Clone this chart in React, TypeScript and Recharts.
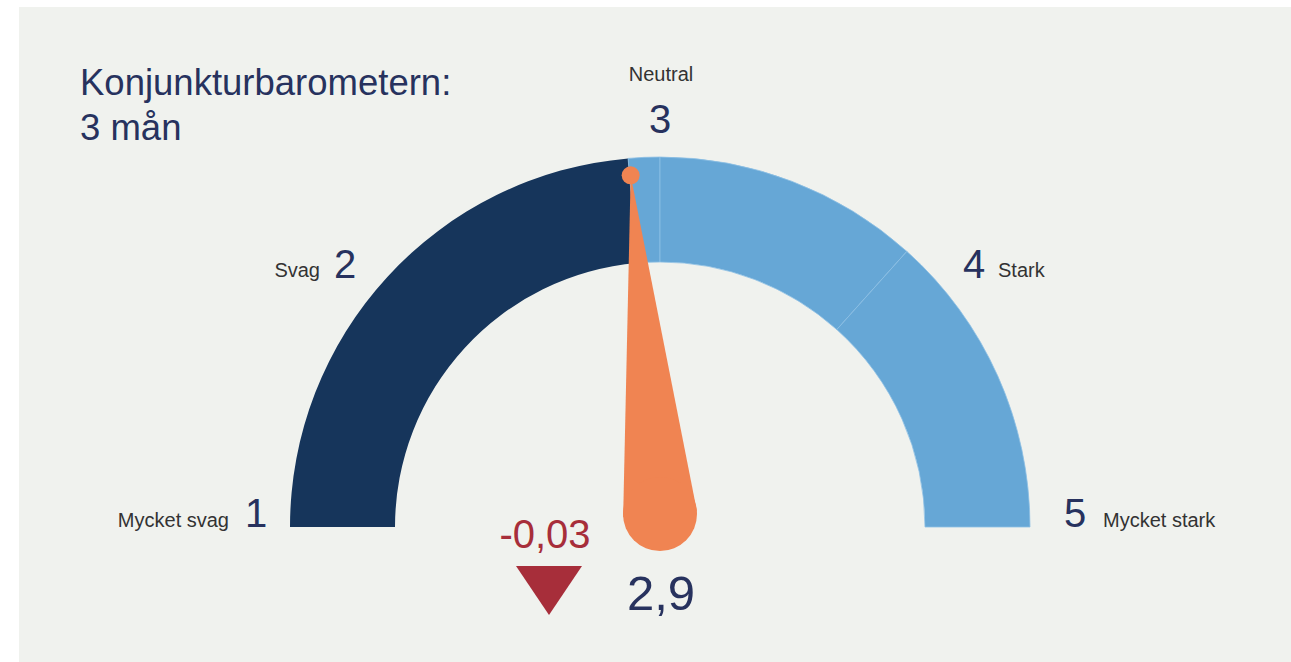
import { PieChart, Pie, Cell, Customized } from "recharts";

// gauge scale
const scaleTicks = [1, 2, 3, 4, 5];
const tickLabels = ["Mycket svag", "Svag", "Neutral", "Stark", "Mycket stark"];
// colour band edges as drawn in the arc
const bandEdges = [1, 3, 3.93, 5];
const currentValue = 2.89;
const changeValue = -0.03;
const titleLines = ["Konjunkturbarometern:", "3 mån"];

const W = 1272;
const H = 655;
const CX = 641;
const CY = 520;
const INNER = 265;
const OUTER = 370;

const NAVY = "#16355b";
const LIGHT = "#66a7d6";
const ORANGE = "#f08452";
const RED = "#a72e3a";
const TEXT_NAVY = "#27325e";
const FONT = "'Liberation Sans', Arial, sans-serif";

const minV = scaleTicks[0];
const maxV = scaleTicks[scaleTicks.length - 1];

// filled part is one piece, the rest is split at the band edges above the value
const cuts = [minV, currentValue, ...bandEdges.filter((t) => t > currentValue)];
const segments = cuts.slice(0, -1).map((from, i) => ({
  name: `${from}-${cuts[i + 1]}`,
  value: cuts[i + 1] - from,
  filled: i === 0,
}));
const needleData = [
  { name: "value", value: currentValue - minV },
  { name: "rest", value: maxV - currentValue },
];

const fmt = (v: number, d: number) => v.toFixed(d).replace(".", ",");
const rad = (deg: number) => (deg * Math.PI) / 180;

// where number / label text sits for each tick (offset from gauge centre)
const tickTextPos = [
  { dx: -404, dy: 0, labelDx: -431, labelDy: 0, anchor: "end" },
  { dx: -315, dy: -249, labelDx: -340, labelDy: -250, anchor: "end" },
  { dx: 0, dy: -394, labelDx: 1, labelDy: -446, anchor: "middle" },
  { dx: 314, dy: -249, labelDx: 338, labelDy: -250, anchor: "start" },
  { dx: 415, dy: 0, labelDx: 443, labelDy: 0, anchor: "start" },
];

// needle drawn as the label of the first slice, so it sits on top of the arc
const renderNeedle = (props: any) => {
  if (props.index !== 0) return null;
  const endAngle = props.endAngle ?? 180 - props.percent * 180;
  const a = rad(endAngle);
  const bx = props.cx;
  const by = props.cy - 13;
  const len = 340;
  const baseR = 37;
  const tx = bx + len * Math.cos(a);
  const ty = by - len * Math.sin(a);
  const px = Math.sin(a) * baseR;
  const py = Math.cos(a) * baseR;
  const pts = `${tx},${ty} ${bx + px},${by + py} ${bx - px},${by - py}`;
  return (
    <g key="needle">
      <polygon points={pts} fill={ORANGE} />
      <circle cx={bx} cy={by} r={baseR} fill={ORANGE} />
      <circle cx={tx} cy={ty} r={9} fill={ORANGE} />
    </g>
  );
};

function Texts() {
  const down = changeValue < 0;
  const triX = CX - 111;
  return (
    <g style={{ fontFamily: FONT }}>
      {titleLines.map((t, i) => (
        <text key={t} x={61} y={88 + i * 45} fontSize={36.5} fill={TEXT_NAVY}>
          {t}
        </text>
      ))}
      {scaleTicks.map((t, i) => {
        const p = tickTextPos[i];
        return (
          <g key={t}>
            <text x={CX + p.dx} y={CY + p.dy} fontSize={40} fill={TEXT_NAVY} textAnchor="middle">
              {t}
            </text>
            <text x={CX + p.labelDx} y={CY + p.labelDy} fontSize={20} fill="#333" textAnchor={p.anchor as any}>
              {tickLabels[i]}
            </text>
          </g>
        );
      })}
      <text x={CX - 115} y={CY + 21} fontSize={40} fill={RED} textAnchor="middle">
        {fmt(changeValue, 2)}
      </text>
      <polygon
        points={
          down
            ? `${triX - 33},${CY + 39} ${triX + 33},${CY + 39} ${triX},${CY + 88}`
            : `${triX - 33},${CY + 88} ${triX + 33},${CY + 88} ${triX},${CY + 39}`
        }
        fill={RED}
      />
      <text x={CX + 1} y={CY + 83} fontSize={49} fill={TEXT_NAVY} textAnchor="middle">
        {fmt(currentValue, 1)}
      </text>
    </g>
  );
}

export default function App() {
  return (
    <div style={{ position: "absolute", left: 0, top: 0, width: 1291, height: 662, background: "#fff" }}>
      <div style={{ position: "absolute", left: 19, top: 7, width: W, height: H, background: "#f0f2ee" }}>
        <PieChart width={W} height={H} margin={{ top: 0, right: 0, bottom: 0, left: 0 }}>
          <Pie
            data={segments}
            dataKey="value"
            cx={CX}
            cy={CY}
            startAngle={180}
            endAngle={0}
            innerRadius={INNER}
            outerRadius={OUTER}
            paddingAngle={0}
            isAnimationActive={false}
          >
            {segments.map((s) => (
              <Cell
                key={s.name}
                fill={s.filled ? NAVY : LIGHT}
                stroke={s.filled ? "none" : "#8ec0e4"}
                strokeWidth={0.8}
              />
            ))}
          </Pie>
          <Pie
            data={needleData}
            dataKey="value"
            cx={CX}
            cy={CY}
            startAngle={180}
            endAngle={0}
            innerRadius={0}
            outerRadius={1}
            fill="none"
            stroke="none"
            label={renderNeedle}
            labelLine={false}
            isAnimationActive={false}
          />
          <Customized component={Texts} />
        </PieChart>
      </div>
    </div>
  );
}
